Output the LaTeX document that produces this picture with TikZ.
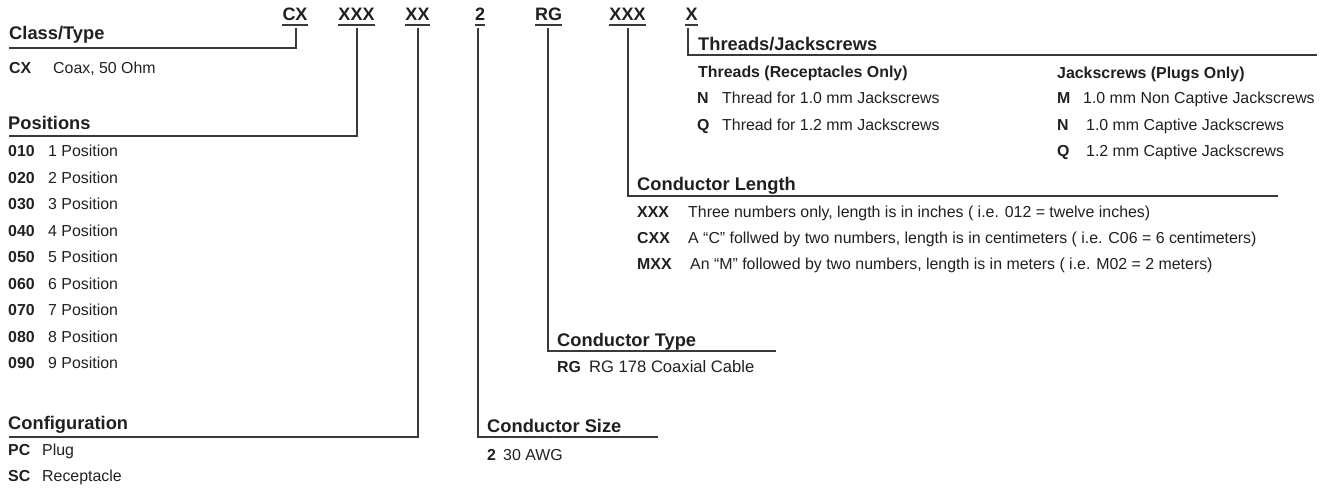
\documentclass[tikz,border=0pt]{standalone}
\usepackage{fontspec}
\setmainfont{Liberation Sans}
\definecolor{ink}{HTML}{231F20}
\definecolor{rule}{HTML}{3A3A3A}
\begin{document}
\begin{tikzpicture}[x=1pt,y=-1pt,
  ln/.style={draw=rule, line width=1.3pt},
  code/.style={anchor=base, inner sep=0pt, text=ink, font=\fontsize{18}{18}\selectfont\bfseries},
  ttl/.style={anchor=base west, inner sep=0pt, text=ink, font=\fontsize{18.3}{20}\selectfont\bfseries},
  sub/.style={anchor=base west, inner sep=0pt, text=ink, font=\fontsize{15.9}{18}\selectfont\bfseries},
  key/.style={anchor=base west, inner sep=0pt, text=ink, font=\fontsize{15.9}{18}\selectfont\bfseries},
  desc/.style={anchor=base west, inner sep=0pt, text=ink, font=\fontsize{15.9}{18}\selectfont},
]
\useasboundingbox (0,0) rectangle (1330,489);

% ---- top part number codes ----
\node[code] (c1) at (295,21) {CX};
\node[code] (c2) at (356.5,21) {XXX};
\node[code] (c3) at (417.5,21) {XX};
\node[code] (c4) at (480,21) {2};
\node[code] (c5) at (548.5,21) {RG};
\node[code] (c6) at (627.5,21) {XXX};
\node[code] (c7) at (691.5,21) {X};
\foreach \c in {c1,c2,c3,c4,c5,c6,c7}
  \draw[ln] ([yshift=-4pt]\c.base west) -- ([yshift=-4pt]\c.base east);

% ---- title underline end points ----
\coordinate (l1) at (9,48);
\coordinate (l2) at (9,136);
\coordinate (l3) at (9,437);
\coordinate (l4) at (658,437);
\coordinate (l5) at (776,351);
\coordinate (l6) at (1278,196);
\coordinate (l7) at (1317,55);

% ---- connectors ----
\draw[ln] ([xshift=1pt,yshift=-7pt]c1.base) |- (l1);
\draw[ln] ([xshift=0.5pt,yshift=-7pt]c2.base) |- (l2);
\draw[ln] ([xshift=0.5pt,yshift=-7pt]c3.base) |- (l3);
\draw[ln] ([xshift=-2pt,yshift=-7pt]c4.base) |- (l4);
\draw[ln] ([xshift=-0.5pt,yshift=-7pt]c5.base) |- (l5);
\draw[ln] ([xshift=0.5pt,yshift=-7pt]c6.base) |- (l6);
\draw[ln] ([xshift=-3.5pt,yshift=-7pt]c7.base) |- (l7);

% ---- Class/Type ----
\node[ttl] (t1) at (9,39.5) {Class/Type};
\node[key] (k1) at (9,74) {CX};
\node[desc] (d1) at (53,74) {Coax, 50 Ohm};

% ---- Positions ----
\node[ttl] (t2) at (8,129.5) {Positions};
\foreach \i [count=\n from 0] in {1,...,9} {
  \node[key] (pk\i) at (8,{156.7+26.5*\n}) {0\i0};
  \node[desc] (pd\i) at (48,{156.7+26.5*\n}) {\i\ Position};
}

% ---- Configuration ----
\node[ttl] (t3) at (8,429.5) {Configuration};
\node[key] (k3a) at (8,455) {PC};
\node[desc] (d3a) at (42,455) {Plug};
\node[key] (k3b) at (8,481.7) {SC};
\node[desc] (d3b) at (42,481.7) {Receptacle};

% ---- Conductor Size ----
\node[ttl] (t4) at (487,432.5) {Conductor Size};
\node[key] (k4) at (487,460.7) {2};
\node[desc] (d4) at (503,460.7) {30 AWG};

% ---- Conductor Type ----
\node[ttl] (t5) at (557,346.5) {Conductor Type};
\node[key] (k5) at (557,372.7) {RG};
\node[desc, font=\fontsize{16.6}{18}\selectfont] (d5) at (589,372.7) {RG 178 Coaxial Cable};

% ---- Conductor Length ----
\node[ttl] (t6) at (637,190.5) {Conductor Length};
\node[key] (k6a) at (637,217.7) {XXX};
\node[desc] (d6a) at (688,217.7) {Three numbers only, length is in inches ( i.e. 012 = twelve inches)};
\node[key] (k6b) at (637,243.7) {CXX};
\node[desc] (d6b) at (688,243.7) {A “C” follwed by two numbers, length is in centimeters ( i.e. C06 = 6 centimeters)};
\node[key] (k6c) at (637,269.7) {MXX};
\node[desc] (d6c) at (690,269.7) {An “M” followed by two numbers, length is in meters ( i.e. M02 = 2 meters)};

% ---- Threads/Jackscrews ----
\node[ttl] (t7) at (698,50.5) {Threads/Jackscrews};
\node[sub] (s7a) at (698,77.7) {Threads (Receptacles Only)};
\node[key] (k7a) at (697,103.7) {N};
\node[desc] (d7a) at (722,103.7) {Thread for 1.0 mm Jackscrews};
\node[key] (k7b) at (697,130.7) {Q};
\node[desc] (d7b) at (722,130.7) {Thread for 1.2 mm Jackscrews};
\node[sub] (s7b) at (1057,78.7) {Jackscrews (Plugs Only)};
\node[key] (k7c) at (1057,103.7) {M};
\node[desc] (d7c) at (1083,103.7) {1.0 mm Non Captive Jackscrews};
\node[key] (k7d) at (1057,130.7) {N};
\node[desc] (d7d) at (1086,130.7) {1.0 mm Captive Jackscrews};
\node[key] (k7e) at (1057,157) {Q};
\node[desc] (d7e) at (1086,157) {1.2 mm Captive Jackscrews};
\end{tikzpicture}
\end{document}
